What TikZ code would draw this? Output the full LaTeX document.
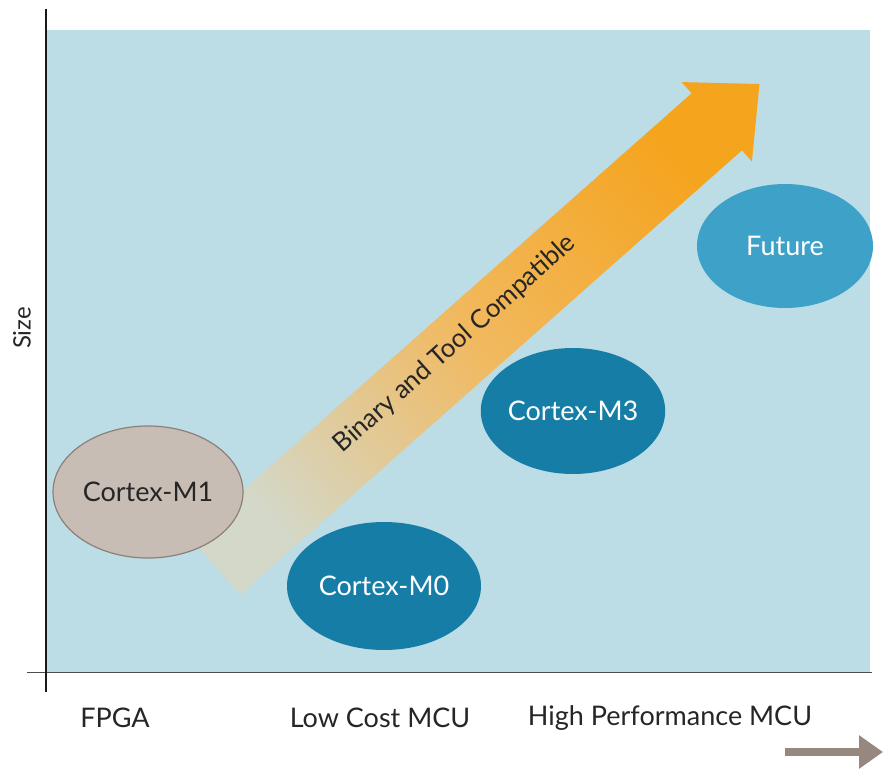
\documentclass[tikz,border=0pt]{standalone}
\usepackage{fontspec}
\setmainfont{Lato}
\usepackage{tikz}
\usetikzlibrary{shapes.geometric,arrows.meta}

\definecolor{bgblue}{RGB}{188,220,230}
\definecolor{stone}{RGB}{200,189,181}
\definecolor{stoneline}{RGB}{140,128,120}
\definecolor{darkteal}{RGB}{22,126,166}
\definecolor{lightteal}{RGB}{62,162,200}
\definecolor{arroworange}{RGB}{245,164,30}
\definecolor{arrowmid}{RGB}{241,185,95}
\definecolor{arrowtail}{RGB}{212,216,200}
\definecolor{arrowgrey}{RGB}{150,136,126}

\begin{document}
\begin{tikzpicture}[x=1pt,y=-1pt,
    core/.style={ellipse, minimum width=#1, minimum height=128pt, inner sep=0pt,
      font=\fontsize{27}{30}\selectfont},
    newcore/.style={core=#1, fill=darkteal, text=white},
    axislabel/.style={font=\fontsize{27}{30}\selectfont, text=black!85}]
  \useasboundingbox (0,0) rectangle (883,768);

  % plot area and axes
  \fill[bgblue] (46,30) rectangle (870,672);
  \draw[black!70, line width=1pt] (27,672) -- (872,672);
  \draw[black!90, line width=2.2pt] (46,9) -- (46,692);

  % compatibility arrow
  \shade[bottom color=arrowtail, top color=arroworange, middle color=arrowmid,
    shading angle=-48.5]
    (189.8,537.5) -- (691.6,93.3) -- (681.7,82.1) -- (759.5,84)
    -- (751.9,161.5) -- (742,150.3) -- (240.2,594.5) -- cycle;
  \node (compat) [rotate=41.7, font=\fontsize{26}{30}\selectfont, text=black!85]
    at (455,344) {Binary and Tool Compatible};

  % processor families
  \node (m1) [core=190pt, minimum height=132pt, fill=stone, draw=stoneline,
    line width=1.2pt, text=black!85] at (148,492) {Cortex-M1};
  \node (m0) [newcore=194pt] at (384,586) {Cortex-M0};
  \node (m3) [newcore=166pt, minimum height=126pt] at (573,411) {Cortex-M3};
  \node (future) [core=176pt, minimum height=124pt, fill=lightteal, text=white]
    at (785,246) {Future};

  % axis labels
  \node (size) [axislabel, rotate=90, font=\fontsize{24}{28}\selectfont] at (22,328) {Size};
  \node (fpga) [axislabel] at (115,718) {FPGA};
  \node (lowcost) [axislabel] at (380,718) {Low Cost MCU};
  \node (highperf) [axislabel] at (670,718) {High Performance MCU};

  \coordinate (dirstart) at (785,752);
  \coordinate (dirend) at (883,752);
  \draw[arrowgrey, line width=8pt, -{Triangle[length=24pt,width=32pt]}] (dirstart) -- (dirend);
\end{tikzpicture}
\end{document}
